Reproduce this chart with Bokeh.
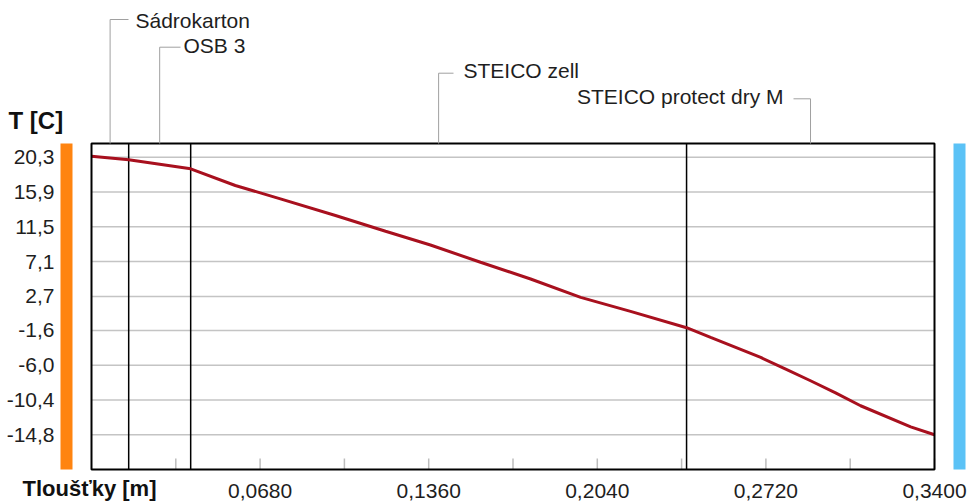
from bokeh.plotting import figure
from bokeh.models import Range1d
from bokeh.core.properties import value
from bokeh.embed import file_html
from bokeh.resources import INLINE

# ---- data ----
depth_m = [0.0, 0.015, 0.040, 0.058, 0.0762, 0.0984, 0.1186, 0.1367, 0.1569, 0.1771,
           0.1973, 0.2174, 0.240, 0.2497, 0.2699, 0.280, 0.290, 0.3001, 0.3102, 0.3304, 0.340]
temperature_c = [20.43, 19.97, 18.83, 16.72, 15.03, 12.92, 10.93, 9.2, 7.01, 4.9,
                 2.58, 0.8, -1.26, -2.49, -5.02, -6.5, -7.97, -9.5, -11.13, -13.8, -14.80]

layer_names = ["Sádrokarton", "OSB 3", "STEICO zell", "STEICO protect dry M"]
layer_thickness = [0.015, 0.025, 0.200, 0.100]

y_ticks = [20.3, 15.9, 11.5, 7.1, 2.7, -1.6, -6.0, -10.4, -14.8]
y_tick_labels = ["20,3", "15,9", "11,5", "7,1", "2,7", "-1,6", "-6,0", "-10,4", "-14,8"]
x_ticks = [0.068, 0.136, 0.204, 0.272, 0.340]
x_tick_labels = ["0,0680", "0,1360", "0,2040", "0,2720", "0,3400"]
x_minor_ticks = [0.034, 0.102, 0.170, 0.238, 0.306]

# ---- geometry (pixel coords of the inner plot box) ----
W, H = 968, 504
FL, FR, FT, FB = 91, 934, 143, 469
X0, X1 = 0.0, 0.34
Y0, Y1 = -19.19, 22.03


def dx(px):
    return X0 + (px - FL) / (FR - FL) * (X1 - X0)


def dy(py):
    return Y1 - (py - FT) / (FB - FT) * (Y1 - Y0)


FONT = value("Liberation Sans")
TXT = "#1E1E1E"

p = figure(width=W, height=H, output_backend="svg", toolbar_location=None,
           x_range=Range1d(dx(0), dx(W)), y_range=Range1d(dy(H), dy(0)),
           x_axis_location=None, y_axis_location=None,
           min_border=0, min_border_left=0, min_border_right=0,
           min_border_top=0, min_border_bottom=0)
p.background_fill_color = "white"
p.border_fill_color = "white"
p.outline_line_color = None
p.grid.visible = False

# horizontal grid lines
p.segment(x0=[X0] * len(y_ticks), x1=[X1] * len(y_ticks), y0=y_ticks, y1=y_ticks,
          line_color="#C4C4C4", line_width=1.5)

# x ticks (pointing inward from the bottom)
all_xt = x_ticks + x_minor_ticks
tick_len = dy(FB - 11) - dy(FB)
p.segment(x0=all_xt, x1=all_xt, y0=[Y0] * len(all_xt), y1=[Y0 + tick_len] * len(all_xt),
          line_color="#BDBDBD", line_width=1.5)

# layer boundaries
bounds = []
acc = 0.0
for t in layer_thickness[:-1]:
    acc += t
    bounds.append(acc)
p.segment(x0=bounds, x1=bounds, y0=[Y0] * len(bounds), y1=[Y1] * len(bounds),
          line_color="black", line_width=1.5)

# temperature curve
p.line(depth_m, temperature_c, line_color="#A8101E", line_width=3)

# plot box
p.quad(left=[X0], right=[X1], bottom=[Y0], top=[Y1], fill_color=None,
       line_color="black", line_width=2)

# side bars (interior / exterior)
p.quad(left=[dx(60), dx(953)], right=[dx(72), dx(965)], bottom=[Y0, Y0], top=[Y1, Y1],
       fill_color=["#FF8410", "#5BC2F6"], line_color=None)

# tick labels
p.text(x=[dx(54)] * len(y_ticks), y=y_ticks, text=y_tick_labels, text_align="right",
       text_baseline="middle", text_font=FONT, text_font_size="21px", text_color=TXT)
p.text(x=x_ticks, y=[dy(490)] * len(x_ticks), text=x_tick_labels, text_align="center",
       text_baseline="middle", text_font=FONT, text_font_size="21px", text_color=TXT)

# layer name leaders
mids = []
acc = 0.0
for t in layer_thickness:
    mids.append(acc + t / 2)
    acc += t

line_y = [19, 46.7, 72.7, 98.3]
line_end_x = [128, 180, 453, 793]
text_x = [135, 183, 463, 783]
text_y = [19.5, 45, 70, 96]
text_al = ["left", "left", "left", "right"]

xs, ys = [], []
for m, ly, lx in zip(mids, line_y, line_end_x):
    xs.append([m, m, dx(lx)])
    ys.append([Y1, dy(ly), dy(ly)])
p.multi_line(xs, ys, line_color="#A0A0A0", line_width=1)

for name, tx, ty, al in zip(layer_names, text_x, text_y, text_al):
    p.text(x=[dx(tx)], y=[dy(ty)], text=[name], text_align=al, text_baseline="middle",
           text_font=FONT, text_font_size="21px", text_color=TXT)

# axis titles
p.text(x=[dx(8)], y=[dy(120)], text=["T [C]"], text_align="left", text_baseline="middle",
       text_font=FONT, text_font_style="bold", text_font_size="24px", text_color="#111111")
p.text(x=[dx(22)], y=[dy(488)], text=["Tloušťky [m]"], text_align="left",
       text_baseline="middle", text_font=FONT, text_font_style="bold",
       text_font_size="22px", text_color="#111111")

open("out.html", "w").write(file_html(p, INLINE))
